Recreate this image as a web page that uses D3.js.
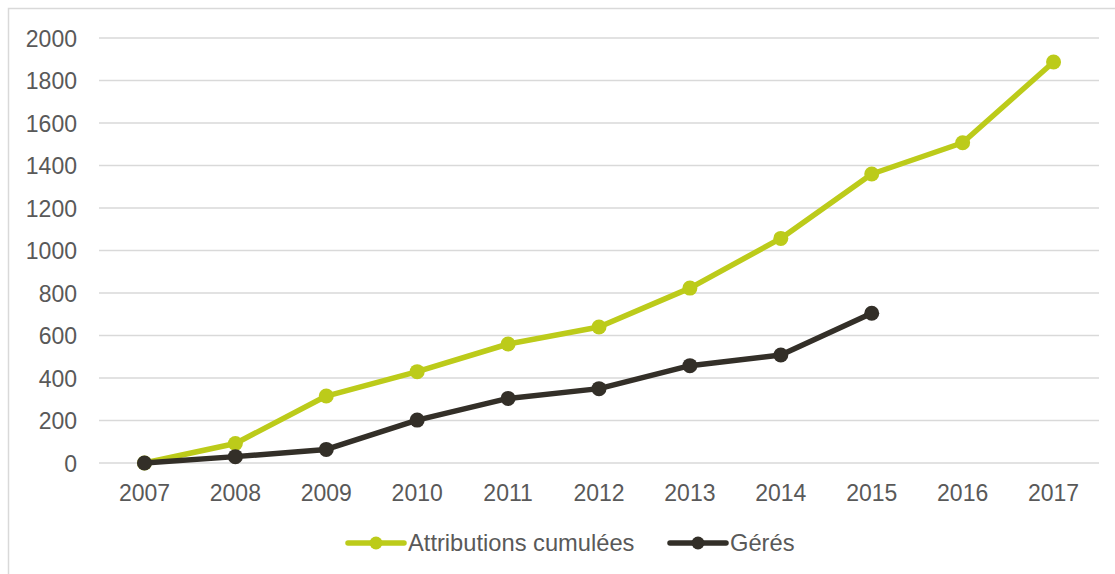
<!DOCTYPE html>
<html>
<head>
<meta charset="utf-8">
<script src="https://cdn.jsdelivr.net/npm/d3@7"></script>
<style>
  html, body { margin: 0; padding: 0; background: #ffffff; }
  svg { display: block; font-family: "Liberation Sans", Arial, sans-serif; }
</style>
</head>
<body>
<svg id="chart" width="1115" height="574"></svg>
<script>
// Years on the category axis
const years = ["2007","2008","2009","2010","2011","2012","2013","2014","2015","2016","2017"];
// Cumulative attributions per year
const attributions = [0, 92, 315, 430, 560, 640, 823, 1057, 1360, 1507, 1887];
// Managed, known up to 2015
const geres = [0, 30, 64, 202, 304, 350, 458, 508, 705];
// Value axis ticks
const yTicks = [0, 200, 400, 600, 800, 1000, 1200, 1400, 1600, 1800, 2000];

const seriesList = [
  { name: "Attributions cumulées", values: attributions, color: "#bccb1a" },
  { name: "Gérés", values: geres, color: "#332f28" }
];

const svg = d3.select("#chart");
const textColor = "#595959";
const fontSize = 23;

// Outer chart frame
svg.append("rect")
  .attr("x", 8.5).attr("y", 8.5)
  .attr("width", 1130).attr("height", 600)
  .attr("fill", "#ffffff")
  .attr("stroke", "#d9d9d9")
  .attr("stroke-width", 1.5);

const x = d3.scaleBand().domain(years).range([99, 1099]);
const y = d3.scaleLinear().domain([0, 2000]).range([463, 38]);

// Horizontal grid
svg.append("g")
  .selectAll("line")
  .data(yTicks)
  .join("line")
  .attr("x1", 99).attr("x2", 1099)
  .attr("y1", d => y(d)).attr("y2", d => y(d))
  .attr("stroke", "#d9d9d9")
  .attr("stroke-width", 1.6);

// Y axis labels
const yAxis = svg.append("g")
  .attr("transform", "translate(77,0)")
  .call(d3.axisLeft(y).tickValues(yTicks).tickSize(0).tickPadding(0).tickFormat(d3.format("d")));
yAxis.select(".domain").remove();
yAxis.selectAll("text")
  .attr("fill", textColor)
  .style("font-size", fontSize + "px")
  .style("font-family", "'Liberation Sans', Arial, sans-serif")
  .attr("dy", "0.35em");

// X axis labels
const xAxis = svg.append("g")
  .attr("transform", "translate(0,463)")
  .call(d3.axisBottom(x).tickSize(0).tickPadding(0));
xAxis.select(".domain").remove();
xAxis.selectAll("text")
  .attr("fill", textColor)
  .style("font-size", fontSize + "px")
  .style("font-family", "'Liberation Sans', Arial, sans-serif")
  .attr("y", 38)
  .attr("dy", 0);

const cx = (d, i) => x(years[i]) + x.bandwidth() / 2;

const line = d3.line()
  .x((d, i) => cx(d, i))
  .y(d => y(d));

seriesList.forEach(s => {
  const g = svg.append("g");
  g.append("path")
    .datum(s.values)
    .attr("d", line)
    .attr("fill", "none")
    .attr("stroke", s.color)
    .attr("stroke-width", 5.5)
    .attr("stroke-linejoin", "round");
  g.selectAll("circle")
    .data(s.values)
    .join("circle")
    .attr("cx", (d, i) => cx(d, i))
    .attr("cy", d => y(d))
    .attr("r", 7.5)
    .attr("fill", s.color);
});

// Legend
const legendItems = [
  { s: seriesList[0], x0: 348 },
  { s: seriesList[1], x0: 670 }
];
legendItems.forEach(({ s, x0 }) => {
  const g = svg.append("g").attr("transform", `translate(${x0},543)`);
  g.append("line")
    .attr("x1", 0).attr("x2", 56)
    .attr("y1", 0).attr("y2", 0)
    .attr("stroke", s.color)
    .attr("stroke-width", 5.5)
    .attr("stroke-linecap", "round");
  g.append("circle")
    .attr("cx", 28).attr("cy", 0).attr("r", 6.5)
    .attr("fill", s.color);
  g.append("text")
    .attr("x", 60).attr("y", 8)
    .attr("fill", textColor)
    .style("font-size", "23.7px")
    .text(s.name);
});
</script>
</body>
</html>
